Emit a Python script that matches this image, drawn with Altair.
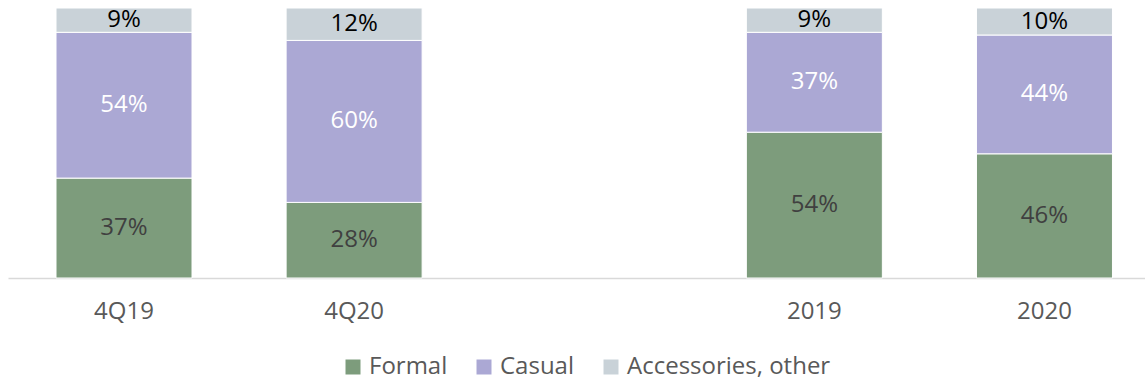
import altair as alt
import pandas as pd

categories = ["4Q19", "4Q20", "2019", "2020"]
x_domain = ["4Q19", "4Q20", " ", "2019", "2020"]
series = ["Formal", "Casual", "Accessories, other"]
formal = [37, 28, 54, 46]
casual = [54, 60, 37, 44]
accessories = [9, 12, 9, 10]

bar_colors = ["#7D9C7C", "#ABA8D4", "#C9D2D8"]
text_colors = ["#404040", "#FFFFFF", "#000000"]

rows = []
for i, c in enumerate(categories):
    for k, vals in enumerate([formal, casual, accessories]):
        rows.append({"cat": c, "series": series[k], "value": vals[i], "order": k})
df = pd.DataFrame(rows)

FONT = "Open Sans"

xscale = alt.Scale(domain=x_domain, paddingInner=0.409, paddingOuter=0.175, align=0.596)
yscale = alt.Scale(domain=[0, 100], nice=False)

x_enc = alt.X(
    "cat:N",
    scale=xscale,
    sort=x_domain,
    axis=alt.Axis(
        title=None, labelAngle=0, ticks=False, domainColor="#D9D9D9",
        domainWidth=1.5, labelFontSize=24, labelColor="#595959",
        labelFont=FONT, labelPadding=21,
    ),
)

bars = alt.Chart(df).mark_bar(stroke="white", strokeWidth=1).encode(
    x=x_enc,
    y=alt.Y("value:Q", stack="zero", scale=yscale, axis=None),
    color=alt.Color(
        "series:N",
        scale=alt.Scale(domain=series, range=bar_colors),
        legend=alt.Legend(
            orient="none", legendX=333, legendY=347, direction="horizontal",
            title=None, symbolType="square", symbolSize=225, symbolStrokeWidth=0,
            labelFontSize=24, labelColor="#595959", labelFont=FONT,
            columnPadding=24, labelOffset=4, padding=0, labelLimit=500,
        ),
    ),
    order=alt.Order("order:Q"),
)

labels = alt.Chart(df).transform_stack(
    stack="value", groupby=["cat"], as_=["y0", "y1"], sort=[alt.SortField("order")]
).transform_calculate(
    mid="(datum.y0 + datum.y1) / 2", label="datum.value + '%'"
).mark_text(font=FONT, fontSize=24, baseline="middle").encode(
    x=alt.X("cat:N", scale=xscale, sort=x_domain),
    y=alt.Y("mid:Q", scale=yscale),
    text="label:N",
    color=alt.Color(
        "series:N",
        scale=alt.Scale(domain=series, range=text_colors),
        legend=None,
    ),
)

chart = alt.layer(bars, labels).resolve_scale(color="independent").properties(
    width=1137, height=270,
    padding={"left": 8, "top": 8, "right": 0, "bottom": 104},
    autosize=alt.AutoSizeParams(type="none"),
).configure_view(stroke=None)

chart.save("out.html", embed_options={"renderer": "svg", "actions": False})
